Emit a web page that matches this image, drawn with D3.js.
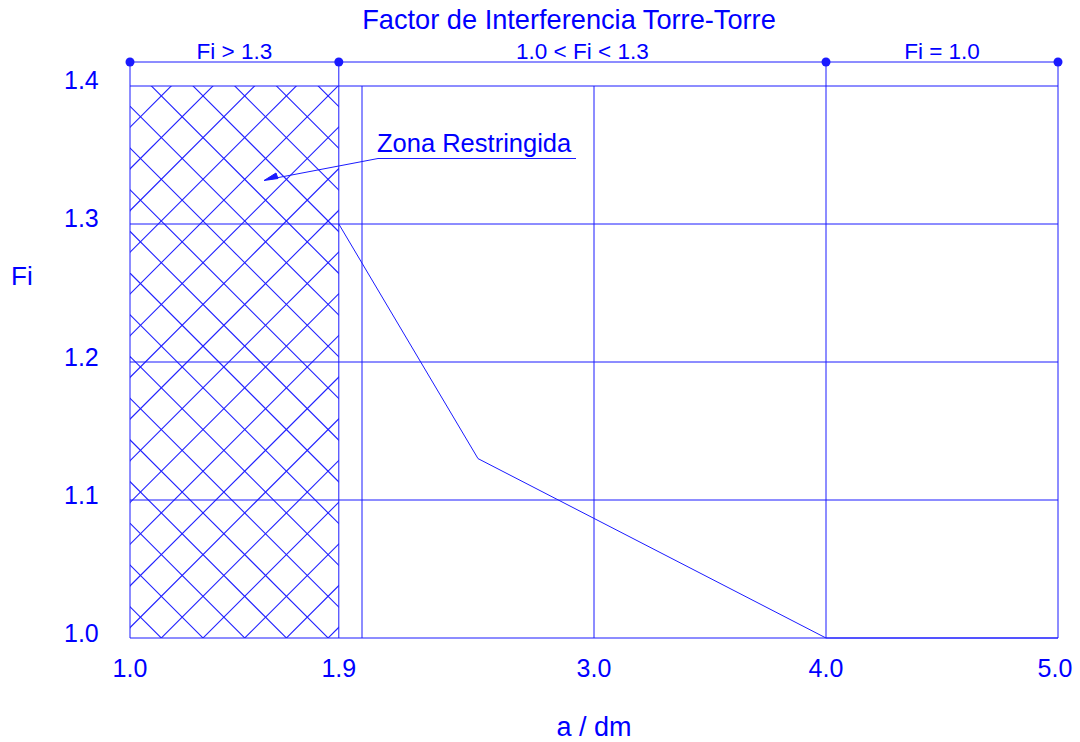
<!DOCTYPE html>
<meta charset="utf-8">
<style>
body { margin: 0; background: #fff; }
text { font-family: "Liberation Sans", Arial, sans-serif; fill: #0000ff; }
.grid { stroke: #1a1aff; stroke-width: 1; }
.hatch { stroke: #2020ff; stroke-width: 1.1; }
</style>
<svg width="1080" height="742"></svg>
<script src="https://cdn.jsdelivr.net/npm/d3@7"></script>
<script>

var xTicks = [1.0, 1.9, 3.0, 4.0, 5.0];
var xGrid = [1.9, 2.0, 3.0, 4.0, 5.0];
var yTicks = [1.0, 1.1, 1.2, 1.3, 1.4];
var curveX = [1.9, 2.5, 4.0, 5.0];
var curveY = [1.3, 1.13, 1.0, 1.0];
var zoneBreaks = [1.0, 1.9, 4.0, 5.0];
var zoneLabels = ["Fi > 1.3", "1.0 < Fi < 1.3", "Fi = 1.0"];
var restricted = [1.0, 1.9];

var svg = d3.select("svg"),
    blue = "#1a1aff";

var x = d3.scaleLinear().domain([1.0, 5.0]).range([130, 1058]);
var y = d3.scaleLinear().domain([1.0, 1.4]).range([638, 86]);
// tick labels sit a little above their gridlines
var yLabel = d3.scaleLinear().domain([1.0, 1.4]).range([633, 80]);

// hatched restricted zone
svg.append("clipPath").attr("id", "zone")
  .append("rect")
    .attr("x", x(restricted[0])).attr("y", y(1.4))
    .attr("width", x(restricted[1]) - x(restricted[0]))
    .attr("height", y(1.0) - y(1.4));

var hatch = svg.append("g").attr("clip-path", "url(#zone)");
var step = 41.7, c0 = 161.3 + 638, d0 = 638 - 161.3;
for (var k = -25; k < 10; k++) {
  var c = c0 + k * step, d = d0 + k * step;
  hatch.append("line").attr("class", "hatch")
    .attr("x1", c - 700).attr("y1", 700).attr("x2", c).attr("y2", 0);
  hatch.append("line").attr("class", "hatch")
    .attr("x1", 0).attr("y1", d).attr("x2", 700).attr("y2", d + 700);
}

// frame + grid
svg.append("g").selectAll("line").data(xGrid).join("line")
    .attr("class", "grid")
    .attr("x1", x).attr("x2", x)
    .attr("y1", y(1.0)).attr("y2", y(1.4));
svg.append("line").attr("class", "grid")
    .attr("x1", x(1.0)).attr("x2", x(1.0)).attr("y1", y(1.0)).attr("y2", y(1.4));
svg.append("g").selectAll("line").data(yTicks).join("line")
    .attr("class", "grid")
    .attr("x1", x(1.0)).attr("x2", x(5.0))
    .attr("y1", y).attr("y2", y);

// curve
var pts = curveX.map(function(v, i) { return [v, curveY[i]]; });
svg.append("path")
    .datum(pts)
    .attr("fill", "none")
    .attr("stroke", blue)
    .attr("stroke-width", 1)
    .attr("d", d3.line().x(function(d) { return x(d[0]); }).y(function(d) { return y(d[1]); }));

// tick labels
svg.append("g").selectAll("text").data(yTicks).join("text")
    .attr("x", 64).attr("y", function(d) { return yLabel(d) + 9; })
    .attr("font-size", 25)
    .text(function(d) { return d.toFixed(1); });
svg.append("g").selectAll("text").data(xTicks).join("text")
    .attr("x", function(d) { return d === 5.0 ? x(d) - 3 : x(d); })
    .attr("y", 677)
    .attr("text-anchor", "middle")
    .attr("font-size", 25)
    .text(function(d) { return d.toFixed(1); });

// axis titles
svg.append("text").attr("x", 594).attr("y", 736).attr("text-anchor", "middle")
    .attr("font-size", 27).text("a / dm");
svg.append("text").attr("x", 11).attr("y", 285)
    .attr("font-size", 26).text("Fi");
svg.append("text").attr("x", 569).attr("y", 29).attr("text-anchor", "middle")
    .attr("font-size", 27.2).text("Factor de Interferencia Torre-Torre");

// zone dimension line
var dimY = 62;
svg.append("line").attr("class", "grid")
    .attr("x1", x(1.0)).attr("x2", x(5.0)).attr("y1", dimY).attr("y2", dimY);
svg.append("g").selectAll("line").data(zoneBreaks).join("line")
    .attr("class", "grid")
    .attr("x1", x).attr("x2", x).attr("y1", dimY).attr("y2", y(1.4));
svg.append("g").selectAll("circle").data(zoneBreaks).join("circle")
    .attr("cx", x).attr("cy", dimY).attr("r", 4.5).attr("fill", blue);
svg.append("g").selectAll("text").data(zoneLabels).join("text")
    .attr("x", function(d, i) { return (x(zoneBreaks[i]) + x(zoneBreaks[i + 1])) / 2; })
    .attr("y", 58.5)
    .attr("text-anchor", "middle")
    .attr("font-size", 22.5)
    .text(function(d) { return d; });

// leader note
svg.append("text").attr("x", 377).attr("y", 152)
    .attr("font-size", 25.5).text("Zona Restringida");
svg.append("line").attr("class", "grid")
    .attr("x1", 378).attr("x2", 576).attr("y1", 158.5).attr("y2", 158.5);
svg.append("line").attr("class", "grid")
    .attr("x1", 378).attr("y1", 158.5).attr("x2", 268).attr("y2", 179.5);
svg.append("path")
    .attr("d", "M264,180.5 L276,173 L278,178.5 Z")
    .attr("fill", blue).attr("stroke", blue).attr("stroke-width", 1);

</script>
